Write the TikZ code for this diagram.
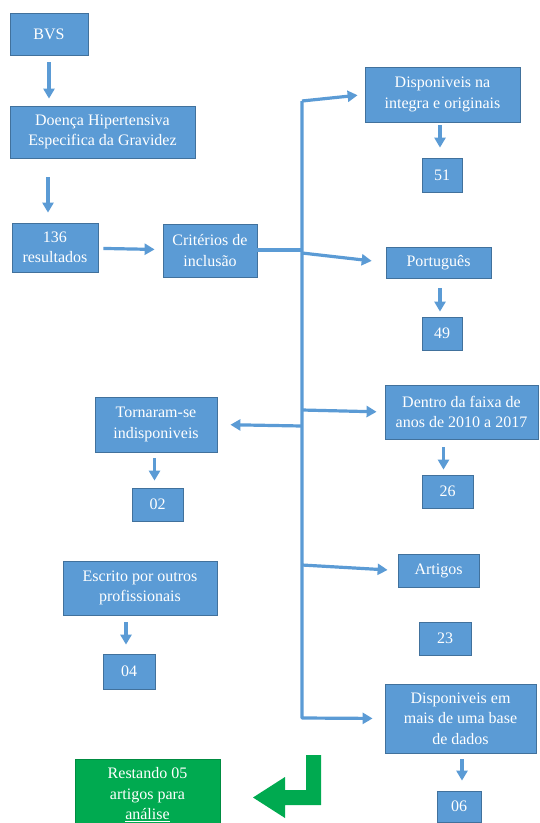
\documentclass[tikz,border=0pt]{standalone}
\usepackage{fontspec}
\setmainfont{Liberation Serif}
\newfontfamily\boxfont{Liberation Serif}
\usetikzlibrary{arrows.meta}
\definecolor{boxblue}{RGB}{91,155,213}
\definecolor{boxedge}{RGB}{65,113,156}
\definecolor{boxgreen}{RGB}{0,170,80}
\definecolor{greenedge}{RGB}{0,140,65}
\begin{document}
\begin{tikzpicture}[
        x=1pt, y=1pt,
        every node/.style={rectangle, draw=boxedge, line width=0.8pt, fill=boxblue, text=white, align=center,
            inner sep=0pt, font=\boxfont\fontsize{16}{20.5}\selectfont},
        numbox/.style={minimum height=33pt},
        greenbox/.style={fill=boxgreen, draw=greenedge},
        arr/.style={draw=boxblue, line width=3.2pt, -{Triangle[width=11pt,length=10pt]}},
        trunk/.style={draw=boxblue, line width=3.2pt}
    ]
        \useasboundingbox (0,0) rectangle (539,-823);

        \node (bvs) [minimum width=78pt, minimum height=42pt] at (49,-34) {BVS};
        \node (doenca) [minimum width=185pt, minimum height=52pt] at (102.5,-132) {Doença Hipertensiva\\Especifica da Gravidez};
        \node (res) [minimum width=86pt, minimum height=49pt] at (55,-247.5) {136\\resultados};
        \node (crit) [minimum width=94pt, minimum height=53pt] at (210,-250.5) {Critérios de\\inclusão};

        \node (disp1) [minimum width=155pt, minimum height=55pt] at (442.5,-94.5) {Disponiveis na\\integra e originais};
        \node (n51) [numbox, minimum width=40pt, minimum height=34pt] at (442,-175) {51};
        \node (port) [minimum width=105pt, minimum height=31pt] at (438.5,-262.5) {Português};
        \node (n49) [numbox, minimum width=40pt] at (442,-333.5) {49};
        \node (dentro) [minimum width=153pt, minimum height=54pt] at (461.5,-412) {Dentro da faixa de\\anos de 2010 a 2017};
        \node (n26) [numbox, minimum width=51pt] at (447.5,-491.5) {26};
        \node (art) [minimum width=81pt, minimum height=33pt] at (438.5,-570.5) {Artigos};
        \node (n23) [numbox, minimum width=52pt] at (445,-638.5) {23};
        \node (disp2) [minimum width=151pt, minimum height=69pt] at (460.5,-718.5) {Disponiveis em\\mais de uma base\\de dados};
        \node (n06) [numbox, minimum width=44pt, minimum height=31pt] at (459,-806.5) {06};

        \node (torn) [minimum width=122pt, minimum height=55pt] at (156,-424.5) {Tornaram-se\\indisponiveis};
        \node (n02) [numbox, minimum width=51pt] at (157.5,-504.5) {02};
        \node (escr) [minimum width=154pt, minimum height=54pt] at (140,-588) {Escrito por outros\\profissionais};
        \node (n04) [numbox, minimum width=52pt, minimum height=35pt] at (129,-671.5) {04};

        \node (rest) [greenbox, minimum width=145pt, minimum height=72pt] at (147.5,-795) {Restando 05\\artigos para\\\underline{análise}};

        % trunk and its branches
        \coordinate (ttop) at (302,-101);
        \coordinate (tbot) at (302,-718);
        \coordinate (jcrit) at (302,-250);
        \coordinate (jport) at (302,-253);
        \coordinate (jdentro) at (302,-410);
        \coordinate (jtorn) at (302,-426);
        \coordinate (jart) at (302,-565);

        \draw[arr, shorten <=7pt, shorten >=7pt] (bvs.south) -- (bvs.south |- doenca.north);
        \draw[arr, shorten <=19pt, shorten >=10pt] ([xshift=-7pt]res.north |- doenca.south) -- ([xshift=-7pt]res.north);
        \draw[arr, shorten <=5pt, shorten >=8pt] (res) -- (crit);
        \draw[trunk] (crit.east |- jcrit) -- (jcrit);
        \draw[arr, shorten >=7pt] (ttop) -- (disp1.west);
        \draw[arr, line join=round, shorten >=12pt] (ttop) -- (tbot) -- (disp2.west);
        \draw[arr, shorten >=14pt] (jport) -- (port.west);
        \draw[arr, shorten >=8pt] (jdentro) -- (dentro.west);
        \draw[arr, shorten >=13pt] (jtorn) -- (torn.east);
        \draw[arr, shorten >=10pt] (jart) -- (art.west);

        \draw[arr, shorten <=3pt, shorten >=10pt] ([xshift=-2pt]n51.north |- disp1.south) -- ([xshift=-2pt]n51.north);
        \draw[arr, shorten <=10pt, shorten >=5pt] ([xshift=-2pt]n49.north |- port.south) -- ([xshift=-2pt]n49.north);
        \draw[arr, shorten <=8pt, shorten >=5pt] ([xshift=-4pt]n26.north |- dentro.south) -- ([xshift=-4pt]n26.north);
        \draw[arr, shorten <=6pt, shorten >=7pt] ([xshift=-3pt]n02.north |- torn.south) -- ([xshift=-3pt]n02.north);
        \draw[arr, shorten <=7pt, shorten >=9pt] ([xshift=-3pt]n04.north |- escr.south) -- ([xshift=-3pt]n04.north);
        \draw[arr, shorten <=6pt, shorten >=10pt] ([xshift=3pt]n06.north |- disp2.south) -- ([xshift=3pt]n06.north);

        % green bent arrow
        \fill[boxgreen] (306,-755) -- (321,-755) -- (321,-805) -- (285,-805) -- (285,-818)
            -- (253,-797.5) -- (285,-777) -- (285,-790) -- (306,-790) -- cycle;
    \end{tikzpicture}
\end{document}
